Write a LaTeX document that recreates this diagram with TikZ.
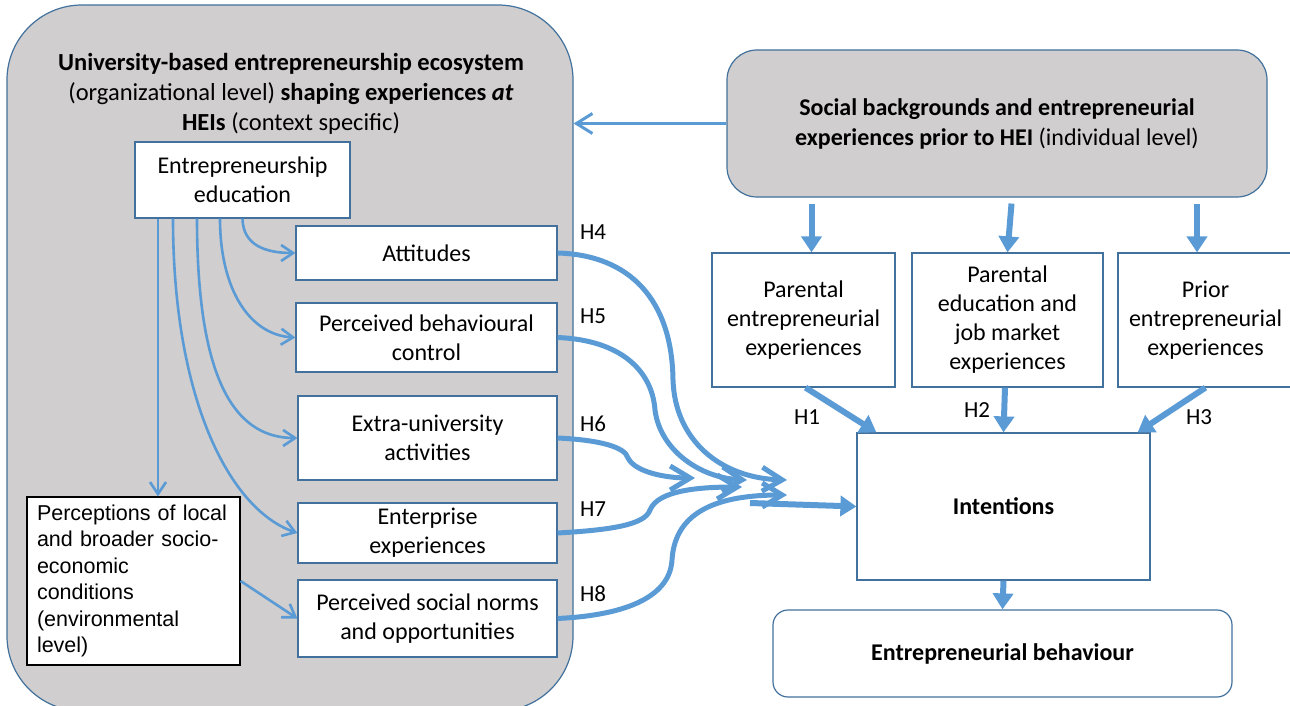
\documentclass[tikz,border=0pt]{standalone}
\usepackage{fontspec}
\setmainfont{Carlito}
\newfontfamily\arialfont{Liberation Sans}
\usetikzlibrary{arrows.meta}
\definecolor{boxgray}{HTML}{D0CECE}
\definecolor{linkblue}{HTML}{5B9BD5}
\definecolor{edgeblue}{HTML}{41719C}

\tikzset{
  plainbox/.style={draw=edgeblue, line width=1.2pt, fill=white, align=center, inner sep=2pt, font=\fontsize{24}{29}\selectfont},
  grayround/.style={draw=edgeblue, line width=1.2pt, fill=boxgray, rounded corners=#1, align=center},
  fatarrow/.style={linkblue, line width=6pt, -{Triangle[length=16pt,width=20pt]}},
  thickcurve/.style={linkblue, line width=5pt, -{Straight Barb[length=20pt,width=24pt]}},
  thincurve/.style={linkblue, line width=2.6pt, -{Straight Barb[length=12pt,width=16pt]}},
  hlabel/.style={font=\fontsize{23}{26}\selectfont, inner sep=0pt},
}

\begin{document}
\begin{tikzpicture}[x=1pt,y=1pt,yscale=-1]
\useasboundingbox (0,0) rectangle (1290,706);

% Containers
\node (eco) [grayround=75pt, minimum width=566pt, minimum height=706pt, inner sep=0pt] at (290,358) {};
\node (social) [grayround=30pt, minimum width=540pt, minimum height=147pt, font=\fontsize{24}{30}\selectfont] at (997,123.5)
  {\textbf{Social backgrounds and entrepreneurial}\\\textbf{experiences prior to HEI} (individual level)};
% Text Node
\node (ecotitle) [align=center, font=\fontsize{24.5}{30}\selectfont] at (291,94)
  {\textbf{University-based entrepreneurship ecosystem}\\(organizational level) \textbf{shaping experiences \textit{at}}\\\textbf{HEIs} (context specific)};

% Boxes inside the ecosystem
\node (edu) [plainbox, minimum width=215pt, minimum height=76pt] at (242.5,180) {Entrepreneurship\\education};
\node (att) [plainbox, minimum width=261pt, minimum height=54pt] at (426.5,253) {Attitudes};
\node (pbc) [plainbox, minimum width=261pt, minimum height=69pt] at (426.5,337.5) {Perceived behavioural\\control};
\node (extra) [plainbox, minimum width=259pt, minimum height=84pt] at (427.5,438) {Extra-university\\activities};
\node (ent) [plainbox, minimum width=259pt, minimum height=60pt] at (427.5,533) {Enterprise\\experiences};
\node (psn) [plainbox, minimum width=259pt, minimum height=77pt] at (427.5,618.5) {Perceived social norms\\and opportunities};
\node (perc) [draw=black, line width=1.2pt, fill=white, align=left, inner xsep=10pt, inner ysep=2pt, text width=193pt,
  minimum height=168pt, font=\arialfont\fontsize{21.5}{26.4}\selectfont] at (133.5,581)
  {Perceptions of local\\and broader socio-\\economic\\conditions\\(environmental\\level)};

% Boxes on the right
\node (pee) [plainbox, minimum width=183pt, minimum height=134pt] at (803.5,320) {Parental\\entrepreneurial\\experiences};
\node (pejm) [plainbox, minimum width=191pt, minimum height=134pt] at (1007.5,320) {Parental\\education and\\job market\\experiences};
\node (prior) [plainbox, minimum width=175pt, minimum height=134pt] at (1205.5,320) {Prior\\entrepreneurial\\experiences};
\node (intent) [plainbox, minimum width=293pt, minimum height=147pt] at (1003.5,506.5) {\textbf{Intentions}};
\node (behav) [plainbox, rounded corners=15pt, minimum width=459pt, minimum height=87pt] at (1002.5,653.5) {\textbf{Entrepreneurial behaviour}};

% Hypothesis labels
\node (h1) [hlabel] at (807,417) {H1};
\node (h2) [hlabel] at (977,410) {H2};
\node (h3) [hlabel] at (1199,417) {H3};
\node (h4) [hlabel] at (593,232) {H4};
\node (h5) [hlabel] at (593,316) {H5};
\node (h6) [hlabel] at (593,424) {H6};
\node (h7) [hlabel] at (593,509) {H7};
\node (h8) [hlabel] at (593,594) {H8};

% Free ends of the H4--H8 curves
\coordinate (tip4) at (787,480);
\coordinate (tip5) at (747,480);
\coordinate (tip6) at (695,478);
\coordinate (tip7) at (742,487);
\coordinate (tip8) at (787,495);
\coordinate (hub) at (750,503);

% Connection
\draw [linkblue, line width=3pt, -{Straight Barb[length=16pt,width=20pt]}] (social.west) -- (social.west -| eco.east);
% Connection
\draw [fatarrow, shorten <=6pt] ([xshift=8pt]social.south -| pee.north) -- ([xshift=8pt]pee.north);
\draw [fatarrow, shorten <=6pt] ([xshift=4.5pt]social.south -| pejm.north) -- (pejm.north);
\draw [fatarrow, shorten <=6pt] ([xshift=-8.5pt]social.south -| prior.north) -- ([xshift=-8.5pt]prior.north);
% Connection
\draw [fatarrow] ([xshift=2pt]pee.south) -- ([xshift=20pt]intent.north west);
\draw [fatarrow] ([xshift=-2.5pt]pejm.south) -- (intent.north);
\draw [fatarrow] (prior.south) -- ([xshift=-13pt]intent.north east);
\draw [fatarrow] (intent.south) -- (behav.north);
\draw [fatarrow] (hub) -- (intent.west);

% Connection
\draw [thincurve] ([xshift=-84.5pt]edu.south) -- ([xshift=24.5pt]perc.north);
\draw [thincurve] (edu.south) .. controls (243,245) and (265,253) .. (att.west);
\draw [thincurve] ([xshift=-22.5pt]edu.south) .. controls (220,290) and (250,335) .. (pbc.west);
\draw [thincurve] ([xshift=-45.5pt]edu.south) .. controls (197,370) and (230,438) .. (extra.west);
\draw [thincurve] ([xshift=-69.5pt]edu.south) .. controls (173,400) and (230,510) .. (ent.west);
\draw [thincurve] (perc.east) -- (psn.west);

% Connection
\draw [thickcurve] (att.east) .. controls (630,255) and (672,300) .. (673,380) .. controls (675,440) and (720,478) .. (tip4);
\draw [thickcurve] (pbc.east) .. controls (620,340) and (652,370) .. (655,410) .. controls (660,450) and (700,478) .. (tip5);
\draw [thickcurve] (extra.east) .. controls (600,440) and (625,447) .. (628,458) .. controls (635,472) and (665,478) .. (tip6);
\draw [thickcurve] (ent.east) .. controls (610,530) and (645,525) .. (650,510) .. controls (658,490) and (700,487) .. (tip7);
\draw [thickcurve] (psn.east) .. controls (630,615) and (670,595) .. (672,560) .. controls (675,510) and (720,495) .. (tip8);

\end{tikzpicture}
\end{document}
